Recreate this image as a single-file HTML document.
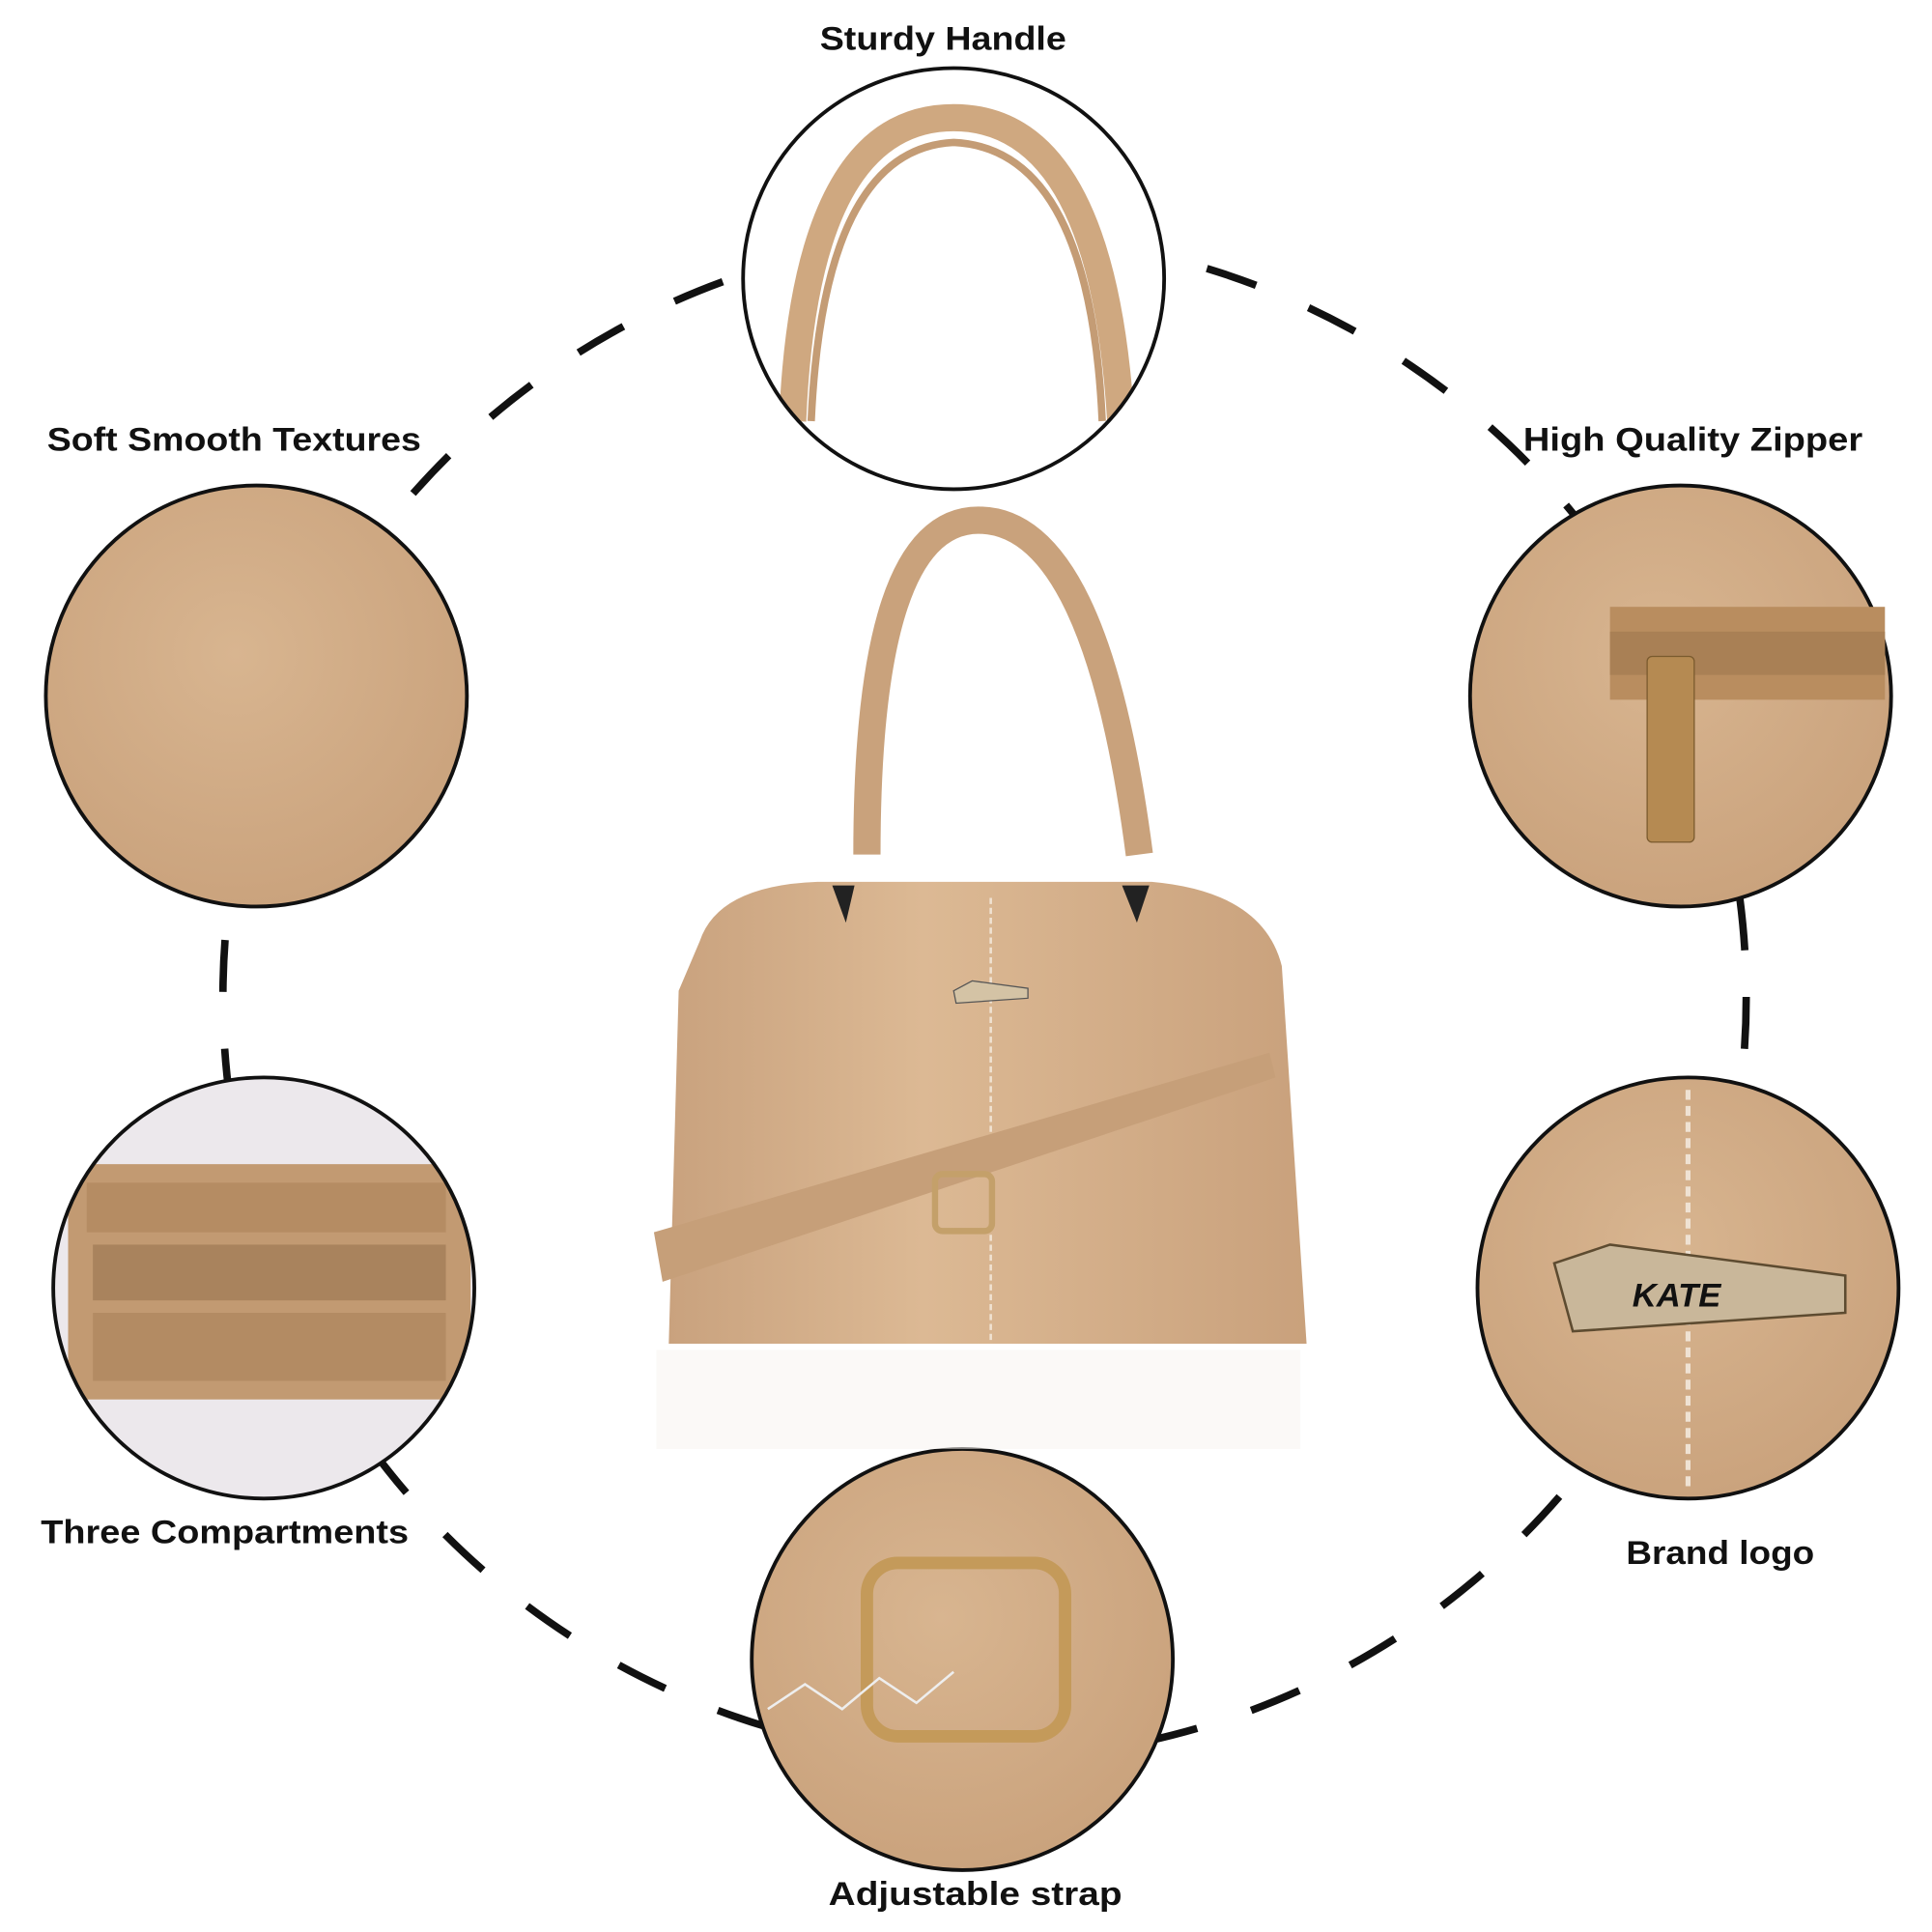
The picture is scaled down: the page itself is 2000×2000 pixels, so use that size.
<!DOCTYPE html>
<html><head><style>
html,body{margin:0;padding:0;background:#fff}
svg{display:block}
text{font-family:"Liberation Sans",sans-serif;font-weight:bold;font-size:27px;fill:#111}
</style></head><body>
<svg width="2000" height="2000" viewBox="0 0 1560 1560" xmlns="http://www.w3.org/2000/svg">
<defs>
<radialGradient id="lea" cx="45%" cy="40%" r="70%"><stop offset="0" stop-color="#d8b590"/><stop offset="1" stop-color="#c8a07a"/></radialGradient>
<linearGradient id="bag" x1="0" y1="0" x2="1" y2="0"><stop offset="0" stop-color="#c9a27e"/><stop offset="0.4" stop-color="#dcb994"/><stop offset="1" stop-color="#c9a17c"/></linearGradient>
<clipPath id="c1"><circle cx="770" cy="225" r="169"/></clipPath>
<clipPath id="c4"><circle cx="213" cy="1040" r="169"/></clipPath>
</defs>
<circle cx="795" cy="805" r="615" fill="none" stroke="#111" stroke-width="6" stroke-dasharray="42 46"/>
<circle cx="770" cy="225" r="170" fill="#fff"/>
<g clip-path="url(#c1)">
<path d="M640 340 Q650 95 770 95 Q890 95 905 340" fill="none" stroke="#cfa880" stroke-width="22"/>
<path d="M655 340 Q665 120 770 115 Q880 120 890 340" fill="none" stroke="#c49c75" stroke-width="6"/>
</g>
<circle cx="770" cy="225" r="170" fill="none" stroke="#111" stroke-width="3"/>
<circle cx="207" cy="562" r="170" fill="url(#lea)" stroke="#111" stroke-width="3"/>
<circle cx="1357" cy="562" r="170" fill="url(#lea)" stroke="#111" stroke-width="3"/>
<rect x="1300" y="490" width="222" height="75" fill="#b98d5f"/>
<rect x="1300" y="510" width="222" height="35" fill="#a98055"/>
<rect x="1330" y="530" width="38" height="150" rx="4" fill="#b58a52" stroke="#7a5a2e"/>
<circle cx="213" cy="1040" r="170" fill="#ece8ec"/>
<g clip-path="url(#c4)">
<rect x="55" y="940" width="325" height="190" fill="#c29a72"/>
<rect x="70" y="955" width="290" height="40" fill="#b58c63"/>
<rect x="75" y="1005" width="285" height="45" fill="#a9835d"/>
<rect x="75" y="1060" width="285" height="55" fill="#b38b63"/>
</g>
<circle cx="213" cy="1040" r="170" fill="none" stroke="#111" stroke-width="3"/>
<circle cx="1363" cy="1040" r="170" fill="url(#lea)" stroke="#111" stroke-width="3"/>
<line x1="1363" y1="880" x2="1363" y2="1205" stroke="#efe2d3" stroke-width="4" stroke-dasharray="8 5"/>
<polygon points="1255,1020 1300,1005 1490,1030 1490,1060 1270,1075" fill="#c9b79a" stroke="#5d4b30" stroke-width="2"/>
<text x="1318" y="1055" font-size="24" font-style="italic" fill="#333">KATE</text>
<circle cx="777" cy="1340" r="170" fill="url(#lea)" stroke="#111" stroke-width="3"/>
<rect x="700" y="1262" width="160" height="140" rx="25" fill="none" stroke="#c49a5a" stroke-width="10"/>
<polyline points="620,1380 650,1360 680,1380 710,1355 740,1375 770,1350" fill="none" stroke="#eee" stroke-width="2"/>
<path d="M700 690 Q700 420 790 420 Q885 420 920 690" fill="none" stroke="#c9a27c" stroke-width="22"/>
<path d="M565 760 Q580 715 660 712 L930 712 Q1020 720 1035 780 L1055 1085 L540 1085 L548 800 Z" fill="url(#bag)"/>
<line x1="800" y1="725" x2="800" y2="1085" stroke="#f0e2d2" stroke-width="2" stroke-dasharray="5 3"/>
<path d="M528 995 L1025 850 L1030 870 L535 1035 Z" fill="#c69f79"/>
<rect x="755" y="948" width="46" height="46" rx="6" fill="none" stroke="#c4a06a" stroke-width="5"/>
<polygon points="770,800 785,792 830,798 830,806 772,810" fill="#d4c3a5" stroke="#555"/>
<polygon points="672,715 690,715 683,745" fill="#222"/>
<polygon points="906,715 928,715 918,745" fill="#222"/>
<rect x="530" y="1090" width="520" height="80" fill="#f7f3f0" opacity="0.5"/>
<text x="662" y="40" textLength="199" lengthAdjust="spacingAndGlyphs">Sturdy Handle</text>
<text x="38" y="364" textLength="302" lengthAdjust="spacingAndGlyphs">Soft Smooth Textures</text>
<text x="1230" y="364" textLength="274" lengthAdjust="spacingAndGlyphs">High Quality Zipper</text>
<text x="33" y="1246" textLength="297" lengthAdjust="spacingAndGlyphs">Three Compartments</text>
<text x="1313" y="1263" textLength="152" lengthAdjust="spacingAndGlyphs">Brand logo</text>
<text x="669" y="1538" textLength="237" lengthAdjust="spacingAndGlyphs">Adjustable strap</text>
</svg>
</body></html>
